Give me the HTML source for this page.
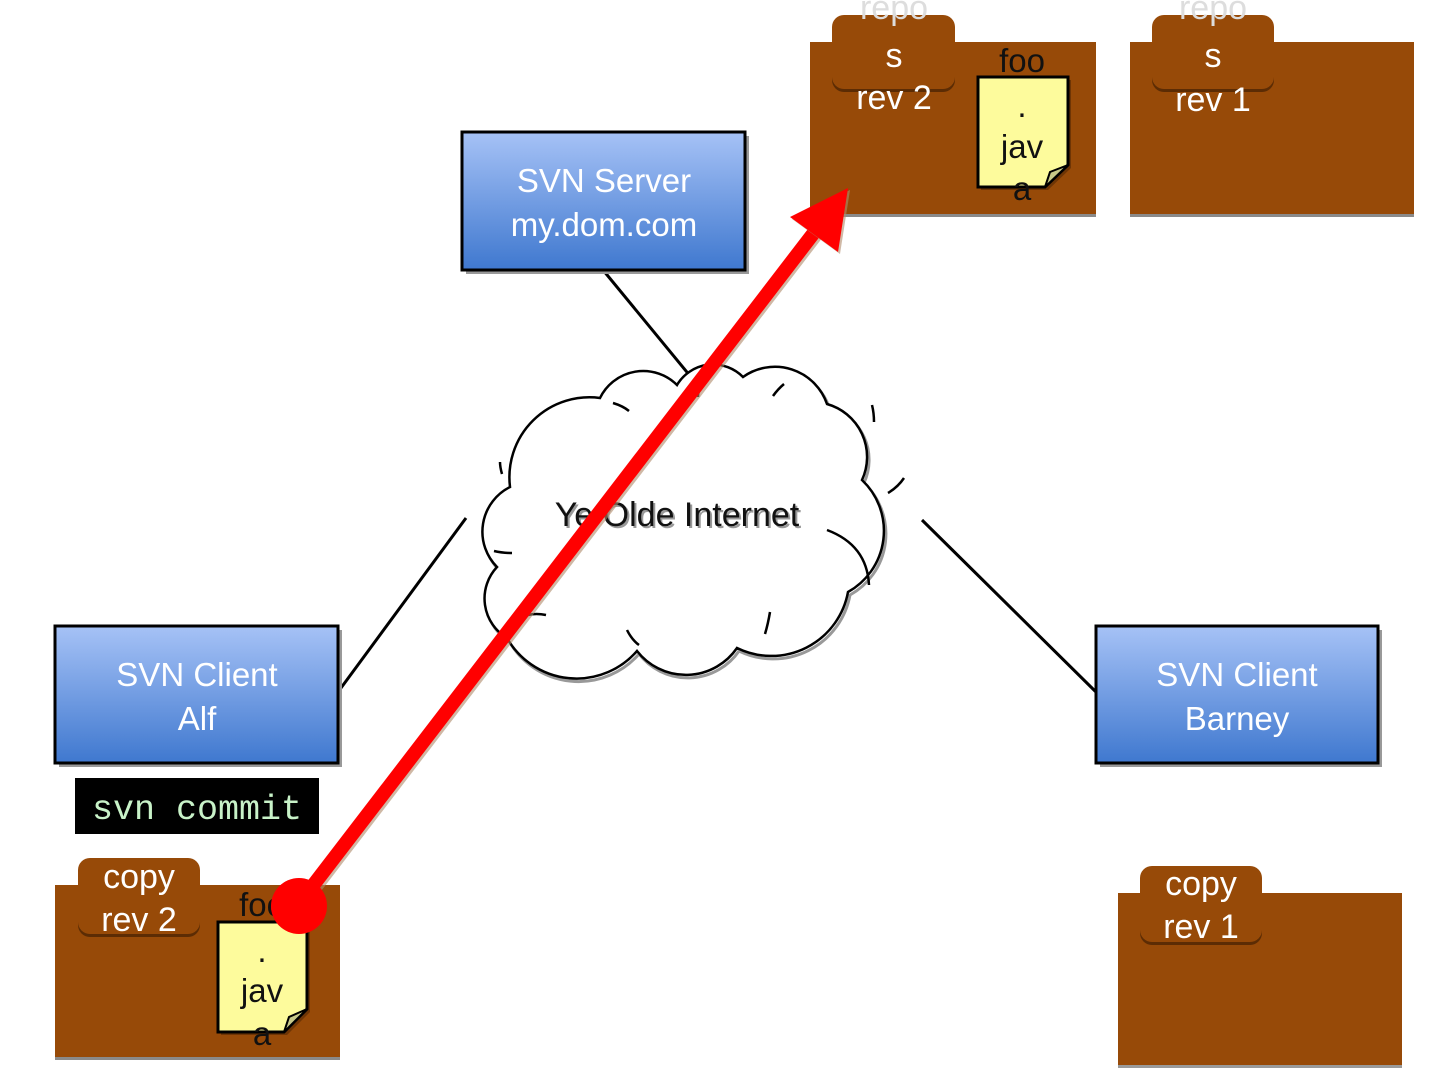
<!DOCTYPE html>
<html><head><meta charset="utf-8"><style>
html,body{margin:0;padding:0;background:#fff;}
svg{display:block;}
text{font-family:"Liberation Sans",sans-serif;}
</style></head><body>
<svg width="1440" height="1080" viewBox="0 0 1440 1080" xmlns="http://www.w3.org/2000/svg">
<defs>
<linearGradient id="bg" x1="0" y1="0" x2="0" y2="1">
<stop offset="0" stop-color="#a6c2f6"/><stop offset="1" stop-color="#3f78cf"/>
</linearGradient>
</defs>

<g stroke="#000" stroke-width="3" fill="none">
<line x1="603" y1="270" x2="700" y2="388"/>
<line x1="338" y1="692" x2="466" y2="518"/>
<line x1="1096" y1="692" x2="922" y2="520"/>
</g>

<g>
<path transform="translate(2,3)" d="M510,487 A80,80 0 0 1 600,398 A48,48 0 0 1 677,385 A42,42 0 0 1 743,377 A55,55 0 0 1 827,404 A55,55 0 0 1 862,480 A70,70 0 0 1 848,592 A78,78 0 0 1 737,648 A62,62 0 0 1 637,651 A80,80 0 0 1 507,638 A46,46 0 0 1 497,567 A50,50 0 0 1 510,487 Z" fill="none" stroke="#999" stroke-width="3"/>
<path d="M510,487 A80,80 0 0 1 600,398 A48,48 0 0 1 677,385 A42,42 0 0 1 743,377 A55,55 0 0 1 827,404 A55,55 0 0 1 862,480 A70,70 0 0 1 848,592 A78,78 0 0 1 737,648 A62,62 0 0 1 637,651 A80,80 0 0 1 507,638 A46,46 0 0 1 497,567 A50,50 0 0 1 510,487 Z" fill="#fff" stroke="#000" stroke-width="2.5"/>
<g stroke="#000" stroke-width="2.5" fill="none">
<path d="M613,403 q10,3 16,8"/>
<path d="M700,385 q-2,8 -2,12"/>
<path d="M773,396 q5,-7 11,-12"/>
<path d="M872,405 q2,8 2,17"/>
<path d="M888,493 q10,-6 16,-15"/>
<path d="M827,530 q40,15 42,55"/>
<path d="M494,551 q8,2 18,2"/>
<path d="M528,615 q8,-2 18,0"/>
<path d="M627,630 q5,10 12,15"/>
<path d="M770,612 q-2,12 -5,22"/>
<path d="M500,462 q0,5 2,12"/>
</g>
<text x="679" y="528" font-size="34" text-anchor="middle" fill="#999">Ye Olde Internet</text>
<text x="677" y="526" font-size="34" text-anchor="middle" fill="#111">Ye Olde Internet</text>
</g>

<g font-size="33" fill="#fff" text-anchor="middle">
<rect x="466" y="136" width="283" height="138" fill="#999"/>
<rect x="462" y="132" width="283" height="138" fill="url(#bg)" stroke="#000" stroke-width="3"/>
<text x="604" y="192">SVN Server</text>
<text x="604" y="236">my.dom.com</text>

<rect x="59" y="630" width="283" height="137" fill="#999"/>
<rect x="55" y="626" width="283" height="137" fill="url(#bg)" stroke="#000" stroke-width="3"/>
<text x="197" y="686">SVN Client</text>
<text x="197" y="730">Alf</text>

<rect x="1100" y="630" width="282" height="137" fill="#999"/>
<rect x="1096" y="626" width="282" height="137" fill="url(#bg)" stroke="#000" stroke-width="3"/>
<text x="1237" y="686">SVN Client</text>
<text x="1237" y="730">Barney</text>
</g>

<rect x="75" y="778" width="244" height="56" fill="#000"/>
<text x="197" y="819" font-size="35" fill="#c8f2c8" text-anchor="middle" style="font-family:'Liberation Mono',monospace">svn commit</text>

<g>
<rect x="810" y="45" width="286" height="172" fill="#8a8a8a"/>
<rect x="810" y="42" width="286" height="172" fill="#974a08"/>
<rect x="832" y="18" width="123" height="74" rx="12" fill="#5c2c04"/>
<rect x="832" y="15" width="123" height="74" rx="12" fill="#974a08"/>
<rect x="1130" y="45" width="284" height="172" fill="#8a8a8a"/>
<rect x="1130" y="42" width="284" height="172" fill="#974a08"/>
<rect x="1152" y="18" width="122" height="74" rx="12" fill="#5c2c04"/>
<rect x="1152" y="15" width="122" height="74" rx="12" fill="#974a08"/>
<rect x="55" y="888" width="285" height="172" fill="#8a8a8a"/>
<rect x="55" y="885" width="285" height="172" fill="#974a08"/>
<rect x="78" y="861" width="122" height="76" rx="12" fill="#5c2c04"/>
<rect x="78" y="858" width="122" height="76" rx="12" fill="#974a08"/>
<rect x="1118" y="896" width="284" height="172" fill="#9a9a9a"/>
<rect x="1118" y="893" width="284" height="172" fill="#974a08"/>
<rect x="1140" y="869" width="122" height="76" rx="12" fill="#5c2c04"/>
<rect x="1140" y="866" width="122" height="76" rx="12" fill="#974a08"/>
</g>

<g font-size="34" fill="#fff" text-anchor="middle">
<text x="894" y="19" fill="#ddd">repo</text>
<text x="894" y="67">s</text>
<text x="894" y="109">rev 2</text>
<text x="1213" y="19" fill="#ddd">repo</text>
<text x="1213" y="67">s</text>
<text x="1213" y="111">rev 1</text>
<text x="139" y="888">copy</text>
<text x="139" y="931">rev 2</text>
<text x="1201" y="895">copy</text>
<text x="1201" y="938">rev 1</text>
</g>

<g>
<path d="M981,80 H1071 V168 L1048,190 H981 Z" fill="#5c2c04" opacity="0.7"/>
<path d="M978,77 H1068 V165 L1045,187 H978 Z" fill="#fdfb9c" stroke="#000" stroke-width="3"/>
<path d="M1045,187 L1050,172 L1068,165 Z" fill="#c7c98a" stroke="#000" stroke-width="2"/>
<path d="M221,925 H310 V1012 L287,1035 H221 Z" fill="#5c2c04" opacity="0.7"/>
<path d="M218,922 H307 V1009 L284,1032 H218 Z" fill="#fdfb9c" stroke="#000" stroke-width="3"/>
<path d="M284,1032 L289,1017 L307,1009 Z" fill="#c7c98a" stroke="#000" stroke-width="2"/>
</g>
<g font-size="33" fill="#111" text-anchor="middle">
<text x="1022" y="72">foo</text>
<text x="1022" y="117">.</text>
<text x="1022" y="158">jav</text>
<text x="1022" y="200">a</text>
<text x="262" y="916">foo</text>
<text x="262" y="962">.</text>
<text x="262" y="1002">jav</text>
<text x="262" y="1045">a</text>
</g>

<g>
<line x1="300" y1="907" x2="818" y2="232" stroke="#b08a6a" stroke-width="14" opacity="0.6"/>
<line x1="298" y1="905" x2="816" y2="230" stroke="#ff0000" stroke-width="14"/>
<polygon points="850,190 792,219 840,254" fill="#b08a6a" opacity="0.6"/>
<polygon points="848,188 790,217 838,252" fill="#ff0000"/>
<circle cx="299" cy="906" r="28" fill="#ff0000"/>
</g>
</svg>
</body></html>
